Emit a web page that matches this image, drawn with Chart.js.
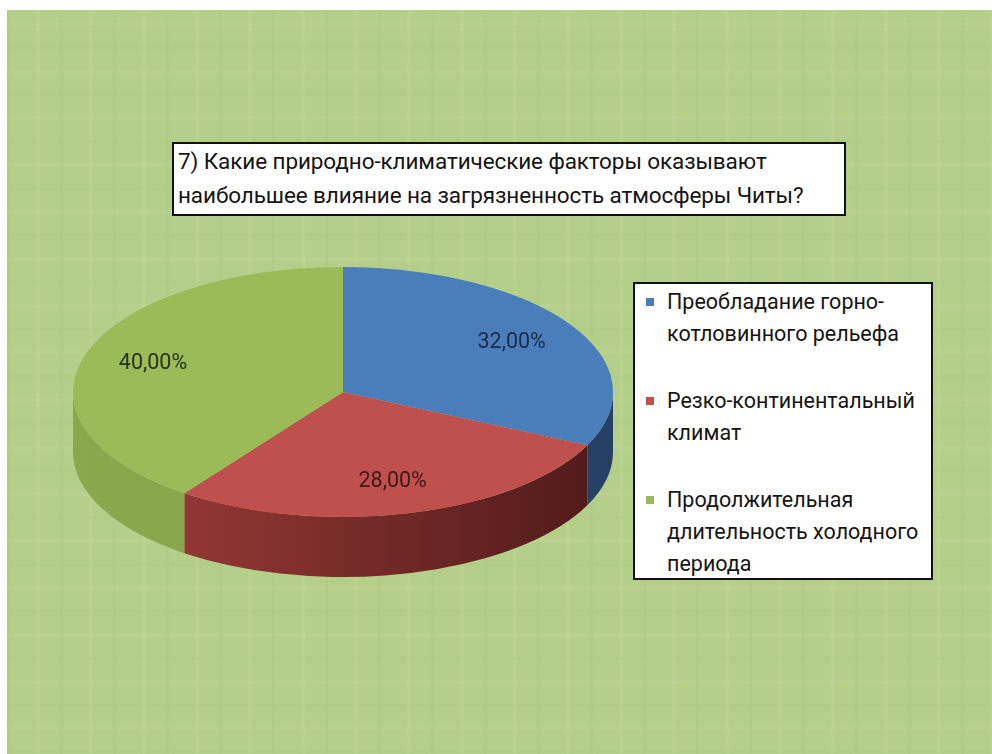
<!DOCTYPE html>
<html>
<head>
<meta charset="utf-8">
<script src="https://cdn.jsdelivr.net/npm/chart.js@4.4.1/dist/chart.umd.min.js"></script>
<style>
  html, body { margin: 0; padding: 0; background: #fff; }
  #page {
    position: relative; width: 992px; height: 754px; overflow: hidden;
    font-family: Roboto, "Open Sans", sans-serif; color: #151515;
  }
  #bg {
    position: absolute; left: 7px; top: 10px; right: 0; bottom: 0;
    background-color: #b4cf89;
    background-image:
      repeating-linear-gradient(90deg, rgba(120,150,80,0.05) 0 3px, transparent 3px 29px, rgba(255,255,255,0.05) 29px 33px, transparent 33px 53px),
      repeating-linear-gradient(0deg, rgba(120,150,80,0.04) 0 3px, transparent 3px 23px, rgba(255,255,255,0.05) 23px 27px, transparent 27px 47px);
  }
  #wrap { position: absolute; left: 0; top: 0; width: 992px; height: 754px; }
  #title {
    position: absolute; left: 172px; top: 142px; width: 666px; height: 70px;
    border: 2px solid #111; background: #fff; padding: 0 0 0 4px;
    font-size: 22.5px; line-height: 34px; white-space: pre-line; letter-spacing: -0.1px;
  }
  #legend {
    position: absolute; left: 633px; top: 282px; width: 296px; height: 294px;
    border: 2px solid #111; background: #fff;
  }
  .item { position: relative; padding-left: 32px; font-size: 21.5px; line-height: 32px; white-space: pre-line; margin-top: 35px; }
  .item:first-child { margin-top: 2px; }
  .item i { position: absolute; left: 11px; top: 12px; width: 8px; height: 8px; }
</style>
</head>
<body>
<div id="page">
  <div id="bg"></div>
  <div id="wrap"><canvas id="pie"></canvas></div>
  <div id="title"></div>
  <div id="legend"></div>
</div>
<script>
const titleText = "7) Какие природно-климатические факторы оказывают\nнаибольшее влияние на загрязненность атмосферы Читы?";
const categories = [
  "Преобладание горно-\nкотловинного рельефа",
  "Резко-континентальный\nклимат",
  "Продолжительная\nдлительность холодного\nпериода"
];
const shares = [32, 28, 40];
const topColors = ["#4a7ebb", "#c0504d", "#9bbb59"];
const sideColors = [["#3b6398", "#263f63"], ["#a33e3b", "#4e1a19"], ["#8aa94d", "#7f9c45"]];
const labelColors = ["#1c2c48", "#3e1717", "#25331a"];

document.getElementById("title").textContent = titleText;
const legendEl = document.getElementById("legend");
categories.forEach((c, i) => {
  const d = document.createElement("div");
  d.className = "item";
  d.innerHTML = '<i style="background:' + topColors[i] + '"></i>';
  d.appendChild(document.createTextNode(c));
  legendEl.appendChild(d);
});

// pie geometry: circle radius 270 centred at (343, 392), squashed vertically
const squash = 0.463;
const depth = 60;

const pie3d = {
  id: "pie3d",
  beforeDatasetsDraw(chart) {
    const ctx = chart.ctx;
    const arcs = chart.getDatasetMeta(0).data;
    arcs.forEach((arc, i) => {
      const p = arc.getProps(["x", "y", "startAngle", "endAngle", "outerRadius"], true);
      const a1 = Math.max(p.startAngle, 0);
      const a2 = Math.min(p.endAngle, Math.PI);
      if (a2 <= a1) return;
      const rx = p.outerRadius, ry = p.outerRadius * squash;
      const g = ctx.createLinearGradient(p.x - rx, 0, p.x + rx, 0);
      g.addColorStop(0, sideColors[i][0]);
      g.addColorStop(1, sideColors[i][1]);
      ctx.save();
      ctx.beginPath();
      ctx.ellipse(p.x, p.y, rx, ry, 0, a1, a2);
      ctx.ellipse(p.x, p.y + depth, rx, ry, 0, a2, a1, true);
      ctx.closePath();
      ctx.fillStyle = g;
      ctx.fill();
      ctx.restore();
    });
    const c = arcs[0];
    ctx.save();
    ctx.translate(c.x, c.y);
    ctx.scale(1, squash);
    ctx.translate(-c.x, -c.y);
  },
  afterDatasetsDraw(chart) {
    const ctx = chart.ctx;
    ctx.restore();
    const arcs = chart.getDatasetMeta(0).data;
    ctx.save();
    ctx.font = "21.5px Roboto, 'Open Sans', sans-serif";
    ctx.textAlign = "center";
    ctx.textBaseline = "middle";
    arcs.forEach((arc, i) => {
      const p = arc.getProps(["x", "y", "startAngle", "endAngle", "outerRadius"], true);
      const mid = (p.startAngle + p.endAngle) / 2;
      const r = p.outerRadius * 0.74;
      const x = p.x + Math.cos(mid) * r;
      const y = p.y + Math.sin(mid) * r * squash;
      ctx.fillStyle = labelColors[i];
      ctx.fillText(shares[i].toFixed(2).replace(".", ",") + "%", x, y);
    });
    ctx.restore();
  }
};

new Chart(document.getElementById("pie"), {
  type: "pie",
  data: {
    labels: categories,
    datasets: [{ data: shares, backgroundColor: topColors, borderWidth: 0 }]
  },
  options: {
    responsive: true,
    maintainAspectRatio: false,
    animation: false,
    layout: { padding: { left: 73, right: 379, top: 122, bottom: 92 } },
    plugins: { legend: { display: false }, tooltip: { enabled: false } }
  },
  plugins: [pie3d]
});
</script>
</body>
</html>
